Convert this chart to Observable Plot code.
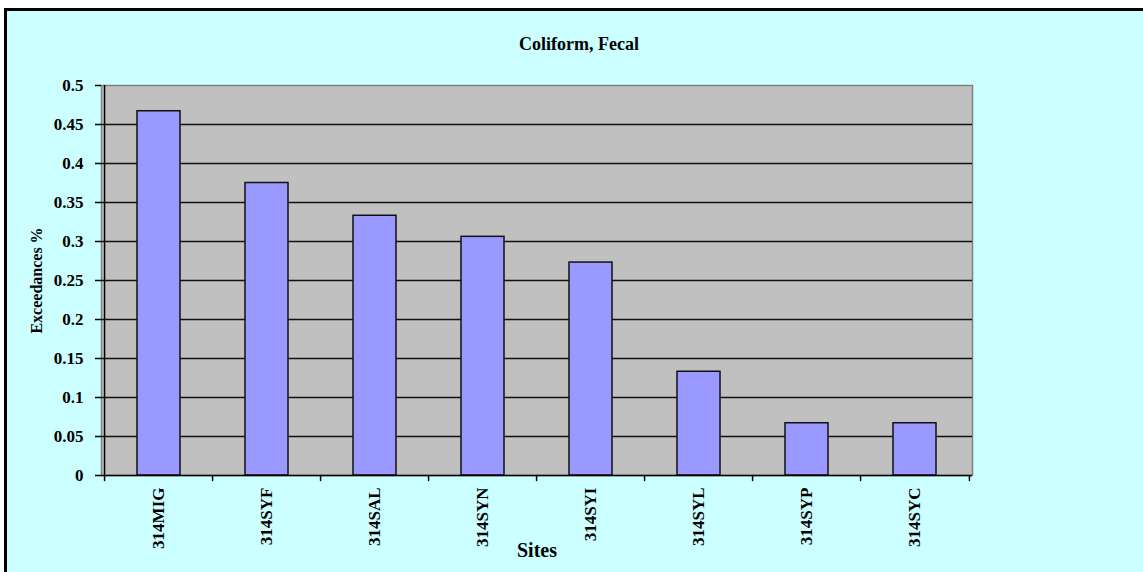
<!DOCTYPE html>
<html><head><meta charset="utf-8">
<script src="https://cdn.jsdelivr.net/npm/d3@7"></script>
<script src="https://cdn.jsdelivr.net/npm/@observablehq/plot@0.6"></script>
<style>
html,body{margin:0;padding:0;background:#fff;overflow:hidden;width:1143px;height:572px;}
#bg{position:absolute;left:4px;top:8px;width:1136px;height:561px;border-top:3px solid #000;border-left:3px solid #000;background:#CCFFFF;}
#chart{position:absolute;left:0;top:0;}
</style></head><body><div id="bg"></div><div id="chart"></div>
<script>
const title = "Coliform, Fecal";
const sites = ["314MIG","314SYF","314SAL","314SYN","314SYI","314SYL","314SYP","314SYC"];
const exceedances = [0.467, 0.375, 0.333, 0.306, 0.273, 0.133, 0.067, 0.067];
const yTicks = [0, 0.05, 0.1, 0.15, 0.2, 0.25, 0.3, 0.35, 0.4, 0.45, 0.5];
const yLabel = "Exceedances %";
const xLabel = "Sites";

const data = sites.map((s, i) => ({site: s, value: exceedances[i]}));
const gridTicks = yTicks.filter(v => v > 0 && v < 0.5);
const W = 1143, H = 572, mL = 101, mR = 171, mT = 85, mB = 97;
const half = (W - mL - mR) / sites.length / 2;
const font = '"Liberation Serif", "Times New Roman", serif';
const tickShape = {draw(context, l) { context.moveTo(0, 0); context.lineTo(0, -l); }};

const chart = Plot.plot({
  width: W, height: H,
  marginLeft: mL, marginRight: mR, marginTop: mT, marginBottom: mB,
  style: {background: "transparent", fontFamily: font, fontWeight: "bold", fontSize: "17px", color: "#000"},
  x: {domain: sites, paddingInner: 0.6, paddingOuter: 0.3, axis: null},
  y: {domain: [0, 0.5], axis: null},
  marks: [
    Plot.frame({fill: "#C0C0C0", stroke: "#808080", strokeWidth: 1.5}),
    Plot.ruleY(gridTicks, {stroke: "#111", strokeWidth: 1.4}),
    Plot.barY(data, {x: "site", y: "value", fill: "#9999FF", stroke: "#111", strokeWidth: 1.5}),
    Plot.ruleY([0], {stroke: "#000", strokeWidth: 1.5}),
    Plot.ruleX([sites[0]], {dx: -half, stroke: "#000", strokeWidth: 1.5}),
    Plot.axisY(yTicks, {tickSize: 6, tickPadding: 12, tickFormat: d => String(d), label: null, fontSize: 17, fill: "#000", strokeWidth: 1.5}),
    Plot.axisX({tickSize: 0, tickPadding: 12, tickRotate: -90, label: null, fontSize: 17, fill: "#000"}),
    Plot.vector(sites, {x: d => d, y: () => 0, length: 5, rotate: 180, anchor: "start", shape: tickShape, dx: -half, stroke: "#000", strokeWidth: 1.5}),
    Plot.vector([sites[sites.length - 1]], {x: d => d, y: () => 0, length: 5, rotate: 180, anchor: "start", shape: tickShape, dx: half, stroke: "#000", strokeWidth: 1.5}),
    Plot.text([title], {frameAnchor: "top", lineAnchor: "middle", dy: -41, dx: 42, fontSize: 18, fill: "#000"}),
    Plot.text([yLabel], {frameAnchor: "left", textAnchor: "middle", lineAnchor: "middle", dx: -65, rotate: -90, fontSize: 16, fill: "#000"}),
    Plot.text([xLabel], {frameAnchor: "bottom", lineAnchor: "middle", dy: 75, fontSize: 20, fill: "#000"})
  ]
});
document.getElementById("chart").appendChild(chart);
</script>
</body></html>
